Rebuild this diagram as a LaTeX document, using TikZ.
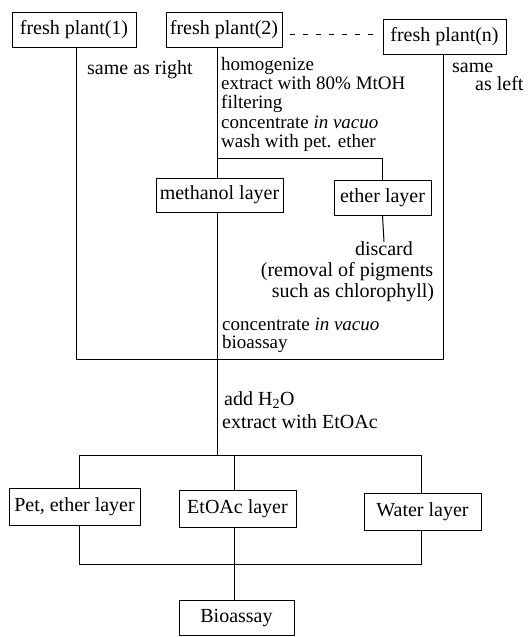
\documentclass[tikz,border=0pt]{standalone}
\usepackage{fontspec}
\setmainfont{Liberation Serif}
\begin{document}
\begin{tikzpicture}[x=1pt,y=-1pt,
  every node/.style={font=\fontsize{20}{20}\selectfont, inner sep=0pt},
  box/.style={draw, line width=1pt, minimum height=35pt, align=center},
  line/.style={line width=1pt},
  lbl/.style={anchor=west, align=left},
  small/.style={font=\fontsize{19}{19.3}\selectfont}]
\useasboundingbox (0,0) rectangle (528,637);

% boxes
\node[box, minimum width=124pt] (fp1) at (74,29.5) {fresh plant(1)};
\node[box, minimum width=116pt] (fp2) at (224,29.5) {fresh plant(2)};
\node[box, minimum width=123pt] (fpn) at (444.5,36.5) {fresh plant(n)};
\node[box, minimum width=127pt, minimum height=34pt] (meth) at (219.5,195) {methanol layer};
\node[box, minimum width=97pt] (eth) at (382.5,197.5) {ether layer};
\node[box, minimum width=131pt, minimum height=37pt] (pet) at (74.5,506.5) {Pet, ether layer};
\node[box, minimum width=117pt, minimum height=37pt] (eto) at (237.5,508.5) {EtOAc layer};
\node[box, minimum width=117pt, minimum height=37pt] (wat) at (422.5,511.5) {Water layer};
\node[box, minimum width=115pt, minimum height=35pt] (bio) at (236.5,618) {Bioassay};

% texts
\node[lbl] (t1) at (87,70) {same as right};
\node[lbl, small, anchor=north west] (t2) at (221,57) {homogenize\\extract with 80\% MtOH\\filtering\\concentrate \textit{in vacuo}\\wash with pet. ether};
\node[lbl] (t7) at (452,68) {same};
\node[lbl] (t8) at (475,84) {as left};
\node (dis) at (384,249) {discard};
\node (rem) at (347,272) {(removal of pigments};
\node (such) at (353,293) {such as chlorophyll)};
\node[lbl, small, anchor=north west, font=\fontsize{19}{17.5}\selectfont] (t3) at (222,318) {concentrate \textit{in vacuo}\\bioassay};
\node[lbl] (t5) at (224,400) {add H\textsubscript{2}O};
\node[lbl] (t6) at (222,422) {extract with EtOAc};

% junction points
\coordinate (jL) at (76,359);
\coordinate (jR) at (443,359);
\coordinate (jM) at (217,158);
\coordinate (jB) at (217,455);
\coordinate (hL) at (79,455);
\coordinate (hM) at (234,455);
\coordinate (hR) at (421,455);
\coordinate (bL) at (79,564);
\coordinate (bR) at (421,564);

% connectors
\draw[line] (fp1.south -| jL) -- (jL) -- (jR) -- (fpn.south -| jR);
\draw[line, dash pattern=on 5pt off 8pt] ([xshift=7pt,yshift=-4.5pt]fp2.east) -- ([xshift=-10pt,yshift=-4.5pt]fp2.east -| fpn.west);
\draw[line] (fp2.south -| jM) -- (jM) -| (eth.north);
\draw[line] (jM) -- (meth.north -| jM);
\draw[line] (eth.south) -- (dis.north);
\draw[line] (meth.south -| jM) -- (jB);
\draw[line] (hL) -- (hR);
\draw[line] (hL) -- (pet.north -| hL);
\draw[line] (hM) -- (eto.north -| hM);
\draw[line] (hR) -- (wat.north -| hR);
\draw[line] (pet.south -| bL) -- (bL) -- (bR) -- (wat.south -| bR);
\draw[line] (eto.south -| hM) -- (bio.north -| hM);
\end{tikzpicture}
\end{document}
